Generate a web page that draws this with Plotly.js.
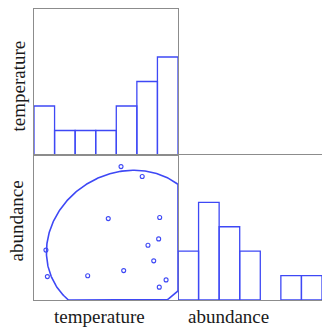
<!DOCTYPE html>
<html>
<head>
<meta charset="utf-8">
<script src="https://cdn.plot.ly/plotly-3.0.1.min.js"></script>
<style>html,body{margin:0;padding:0;background:#fff}#chart{width:323px;height:329px}</style>
</head>
<body>
<div id="chart"></div>
<script>
// Observations (abundance missing for the last one)
const temperature = [4.23, 5.26, 3.61, 6.11, 6.06, 5.54, 0.58, 5.82, 0.65, 2.61, 4.36, 6.42, 6.09, 1.50];
const abundance   = [6.44, 5.96, 3.93, 3.98, 2.95, 2.64, 2.41, 1.89, 1.13, 1.17, 1.42, 0.97, 0.62, null];
const variableLabels = ["temperature", "abundance"];
const binStart = 0, binEnd = 7, binSize = 1;
const ellipseScale = 1.88;

const BLUE = "rgb(62,72,245)";
const GREY = "#8c8c8c";

// complete pairs
const px = [], py = [];
for (let i = 0; i < temperature.length; i++) {
  if (temperature[i] != null && abundance[i] != null) { px.push(temperature[i]); py.push(abundance[i]); }
}
const n = px.length;
const mx = px.reduce((a, b) => a + b, 0) / n;
const my = py.reduce((a, b) => a + b, 0) / n;
let sxx = 0, syy = 0, sxy = 0;
for (let i = 0; i < n; i++) {
  sxx += (px[i] - mx) ** 2; syy += (py[i] - my) ** 2; sxy += (px[i] - mx) * (py[i] - my);
}
sxx /= (n - 1); syy /= (n - 1); sxy /= (n - 1);
const L11 = Math.sqrt(sxx), L21 = sxy / L11, L22 = Math.sqrt(syy - L21 * L21);
const ex = [], ey = [];
const clamp = (v, lo, hi) => Math.max(lo, Math.min(hi, v));
for (let k = 0; k <= 360; k++) {
  const t = k / 360 * 2 * Math.PI;
  const x = mx + ellipseScale * L11 * Math.cos(t);
  const y = my + ellipseScale * (L21 * Math.cos(t) + L22 * Math.sin(t));
  ex.push(clamp(x, binStart, binEnd));
  ey.push(clamp(y, binStart, binEnd));
}

const histStyle = {
  marker: { color: "rgba(255,255,255,0)", line: { color: BLUE, width: 1.3 } },
  autobinx: false,
  xbins: { start: binStart, end: binEnd, size: binSize },
  hoverinfo: "skip",
  cliponaxis: false
};

const traces = [
  Object.assign({ type: "histogram", x: temperature.filter(v => v != null), xaxis: "x", yaxis: "y" }, histStyle),
  { type: "scatter", mode: "lines", x: ex, y: ey, xaxis: "x2", yaxis: "y2",
    line: { color: BLUE, width: 1.6 }, hoverinfo: "skip" },
  { type: "scatter", mode: "markers", x: temperature, y: abundance, xaxis: "x2", yaxis: "y2",
    marker: { symbol: "circle-open", size: 4, color: BLUE, line: { width: 1.1, color: BLUE } }, hoverinfo: "skip" },
  Object.assign({ type: "histogram", x: abundance.filter(v => v != null), xaxis: "x3", yaxis: "y3" }, histStyle)
];

const W = 323, H = 329;
const xd1 = [34 / W, 178 / W], xd2 = [178 / W, 322 / W];
const yTop = [1 - 155 / H, 1 - 9 / H], yBot = [1 - 300 / H, 1 - 155 / H];
const ax = (extra) => Object.assign({
  showticklabels: false, ticks: "", showgrid: false, zeroline: false,
  showline: true, mirror: true, linecolor: GREY, linewidth: 1
}, extra);

const font = { family: "Liberation Serif, Times New Roman, serif", size: 19, color: "#1a1a1a" };
const layout = {
  width: W, height: H,
  margin: { l: 0, r: 0, t: 0, b: 0 },
  paper_bgcolor: "#fff", plot_bgcolor: "#fff",
  showlegend: false,
  bargap: 0,
  xaxis:  ax({ domain: xd1, range: [binStart, binEnd], anchor: "y" }),
  yaxis:  ax({ domain: yTop, range: [0, 5.96], anchor: "x" }),
  xaxis2: ax({ domain: xd1, range: [binStart, binEnd], anchor: "y2" }),
  yaxis2: ax({ domain: yBot, range: [binStart, binEnd], anchor: "x2" }),
  xaxis3: ax({ domain: xd2, range: [binStart, binEnd], anchor: "y3" }),
  yaxis3: ax({ domain: yBot, range: [0, 5.94], anchor: "x3", showline: false }),
  annotations: [
    { text: variableLabels[0], xref: "paper", yref: "paper", x: 99 / W, y: 1 - 316 / H,
      xanchor: "center", yanchor: "middle", showarrow: false, font: font },
    { text: variableLabels[1], xref: "paper", yref: "paper", x: 228.7 / W, y: 1 - 316 / H,
      xanchor: "center", yanchor: "middle", showarrow: false, font: font },
    { text: variableLabels[0], xref: "paper", yref: "paper", x: 18 / W, y: 1 - 86.5 / H,
      xanchor: "center", yanchor: "middle", textangle: -90, showarrow: false, font: font },
    { text: variableLabels[1], xref: "paper", yref: "paper", x: 16 / W, y: 1 - 221.5 / H,
      xanchor: "center", yanchor: "middle", textangle: -90, showarrow: false, font: font }
  ]
};

Plotly.newPlot("chart", traces, layout, { staticPlot: true, displayModeBar: false });
</script>
</body>
</html>
